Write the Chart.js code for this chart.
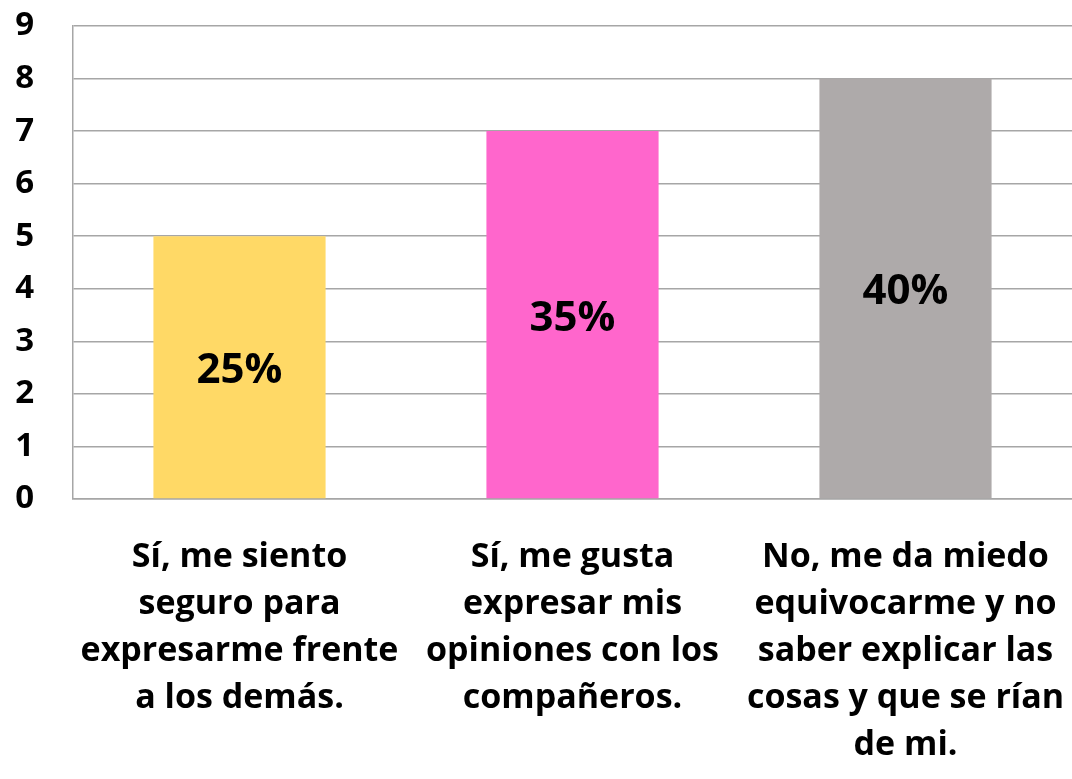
<!DOCTYPE html>
<html>
<head>
<meta charset="utf-8">
<script src="https://cdn.jsdelivr.net/npm/chart.js@4/dist/chart.umd.min.js"></script>
<style>
  html, body { margin: 0; padding: 0; background: #fff; }
  #wrap { width: 1072px; height: 779px; }
</style>
</head>
<body>
<div id="wrap"><canvas id="grafico"></canvas></div>
<script>
// Datos
const categorias = [
    ['Sí, me siento', 'seguro para', 'expresarme frente', 'a los demás.'],
    ['Sí, me gusta', 'expresar mis', 'opiniones con los', 'compañeros.'],
    ['No, me da miedo', 'equivocarme y no', 'saber explicar las', 'cosas y que se rían', 'de mi.']
];
const valores = [5, 7, 8];
const porcentajes = ['25%', '35%', '40%'];
const colores = ['#FFD966', '#FF66CC', '#AEAAAA'];

const fuente = "'Open Sans', sans-serif";

// Etiquetas de porcentaje dentro de cada barra
const etiquetasBarras = {
    id: 'etiquetasBarras',
    afterDatasetsDraw(chart) {
        const ctx = chart.ctx;
        const meta = chart.getDatasetMeta(0);
        ctx.save();
        ctx.font = 'bold 42px ' + fuente;
        ctx.fillStyle = '#000';
        ctx.textAlign = 'center';
        ctx.textBaseline = 'middle';
        meta.data.forEach((barra, i) => {
            const medio = (barra.y + barra.base) / 2;
            ctx.fillText(porcentajes[i], barra.x, medio + 4);
        });
        ctx.restore();
    }
};

new Chart(document.getElementById('grafico'), {
    type: 'bar',
    data: {
        labels: categorias,
        datasets: [{
            data: valores,
            backgroundColor: colores,
            borderWidth: 0,
            categoryPercentage: 1,
            barPercentage: 0.517
        }]
    },
    options: {
        responsive: true,
        maintainAspectRatio: false,
        animation: false,
        layout: { padding: { top: 26, right: 0, left: 0, bottom: 0 } },
        plugins: {
            legend: { display: false },
            tooltip: { enabled: false }
        },
        scales: {
            y: {
                min: 0,
                max: 9,
                ticks: {
                    stepSize: 1,
                    color: '#000',
                    padding: 39,
                    font: { family: fuente, size: 33, weight: 'bold' }
                },
                grid: { color: '#A6A6A6', lineWidth: 1.5, drawTicks: false },
                border: { color: '#A6A6A6', width: 1.5 },
                afterFit(scale) {
                    scale.width = 73;
                    scale.paddingTop = 0;
                    scale.paddingBottom = 0;
                }
            },
            x: {
                ticks: {
                    color: '#000',
                    padding: 35,
                    maxRotation: 0,
                    autoSkip: false,
                    font: { family: fuente, size: 34, weight: 'bold', lineHeight: 1.38 }
                },
                grid: { display: false, drawTicks: false },
                border: { color: '#A6A6A6', width: 1.5 },
                afterFit(scale) {
                    scale.height = 280;
                    scale.paddingLeft = 0;
                    scale.paddingRight = 0;
                }
            }
        }
    },
    plugins: [etiquetasBarras]
});
</script>
</body>
</html>
